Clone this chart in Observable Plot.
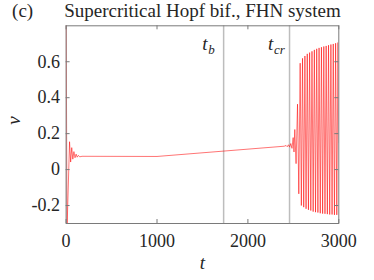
<!DOCTYPE html>
<html><head><meta charset="utf-8">
<script src="https://cdn.jsdelivr.net/npm/d3@7"></script>
<script src="https://cdn.jsdelivr.net/npm/@observablehq/plot@0.6"></script>
<style>body{margin:0;background:#fff} svg{display:block} svg text{font-family:"Liberation Serif",serif}</style>
</head><body><div id="chart"></div>
<script>
const tValues = [0, 10, 38, 50, 62, 74, 86, 98, 110, 122, 135, 150, 175, 1000, 2400,
  2420, 2433, 2446, 2459, 2472, 2485, 2498, 2507, 2516, 2530, 2546, 2560, 2575, 2588,
  2601, 2614, 2627, 2640, 2653, 2666, 2679, 2692, 2705, 2718, 2731, 2744, 2757, 2770,
  2783, 2796, 2809, 2822, 2835, 2848, 2861, 2874, 2887, 2900, 2913, 2926, 2939, 2952,
  2965, 2978, 2991, 3000];
const vValues = [0.95, -0.34, 0.155, 0.042, 0.122, 0.058, 0.100, 0.066, 0.086, 0.069, 0.079, 0.071, 0.074, 0.073, 0.130,
  0.134, 0.127, 0.138, 0.125, 0.145, 0.118, 0.178, 0.098, 0.223, 0.033, 0.364, -0.135, 0.592, -0.200,
  0.619, -0.209, 0.632, -0.218, 0.644, -0.224, 0.651, -0.228, 0.658, -0.234, 0.666, -0.237, 0.672, -0.239,
  0.677, -0.243, 0.681, -0.245, 0.685, -0.246, 0.688, -0.248, 0.692, -0.250, 0.696, -0.250, 0.699, -0.252,
  0.703, -0.252, 0.707, 0.15];
const xTicks = [0, 1000, 2000, 3000];
const xTickLabels = ["0", "1000", "2000", "3000"];
const yTicks = [-0.2, 0, 0.2, 0.4, 0.6];
const yTickLabels = ["-0.2", "0", "0.2", "0.4", "0.6"];
const markerT = [1733, 2458];
const markerSubs = ["b", "cr"];
const titleText = "Supercritical Hopf bif., FHN system";
const panelLabel = "(c)";
const xLabel = "t";
const yLabel = "v";

const series = tValues.map((t, i) => ({t, v: vValues[i]}));
const markers = markerT.map((t, i) => ({t, sub: markerSubs[i]}));
const W = 374, H = 280, mL = 65.6, mR = 35.7, mT = 25.3, mB = 57;
const innerH = H - mT - mB, innerW = W - mL - mR;
const font = "Liberation Serif";
const ink = "#262626", axisGrey = "#7a7a7a";

const plot = Plot.plot({
  width: W, height: H,
  marginLeft: mL, marginRight: mR, marginTop: mT, marginBottom: mB,
  style: {fontSize: "18px", background: "#fff", color: ink},
  x: {domain: [0, 3000]},
  y: {domain: [-0.3, 0.8]},
  marks: [
    Plot.ruleX(markerT, {stroke: "#bdbdbd", strokeWidth: 1.5}),
    Plot.line(series, {x: "t", y: "v", stroke: "#ff0000", strokeWidth: 0.55, clip: true}),
    Plot.frame({stroke: axisGrey}),
    Plot.ruleX(xTicks, {insetTop: innerH - 4, stroke: axisGrey}),
    Plot.ruleX(xTicks, {insetBottom: innerH - 4, stroke: axisGrey}),
    Plot.ruleY(yTicks, {insetRight: innerW - 4, stroke: axisGrey}),
    Plot.ruleY(yTicks, {insetLeft: innerW - 4, stroke: axisGrey}),
    Plot.axisX(xTicks, {tickSize: 0, tickPadding: 11, label: null, fill: ink, fontFamily: font, fontSize: 18,
      fontVariant: "normal", tickFormat: d => xTickLabels[xTicks.indexOf(d)]}),
    Plot.axisY(yTicks, {tickSize: 0, tickPadding: 6, label: null, fill: ink, fontFamily: font, fontSize: 18,
      fontVariant: "normal", tickFormat: d => yTickLabels[yTicks.indexOf(d)]}),
    Plot.text([xLabel], {text: d => d, frameAnchor: "bottom", dy: 45, fontFamily: font, fontStyle: "italic", fontSize: 19, fill: ink}),
    Plot.text([yLabel], {text: d => d, frameAnchor: "left", dx: -52.5, rotate: -90, fontFamily: font, fontStyle: "italic", fontSize: 19, fill: ink}),
    Plot.text([titleText], {text: d => d, frameAnchor: "top", lineAnchor: "bottom", dy: -8.5, fontFamily: font, fontSize: 19, fill: ink}),
    Plot.text([panelLabel], {text: d => d, frameAnchor: "top-left", lineAnchor: "bottom", dx: -54, dy: -8.5, fontFamily: font, fontSize: 19, fill: ink}),
    Plot.text(markers, {x: "t", text: () => "t", frameAnchor: "top", lineAnchor: "bottom", dy: 24.5, dx: -21.5, textAnchor: "start", fontFamily: font, fontStyle: "italic", fontSize: 19, fill: ink}),
    Plot.text(markers, {x: "t", text: "sub", frameAnchor: "top", lineAnchor: "bottom", dy: 28, dx: -15.5, textAnchor: "start", fontFamily: font, fontStyle: "italic", fontSize: 13, fill: ink})
  ]
});
document.getElementById("chart").appendChild(plot);
</script>
</body></html>
